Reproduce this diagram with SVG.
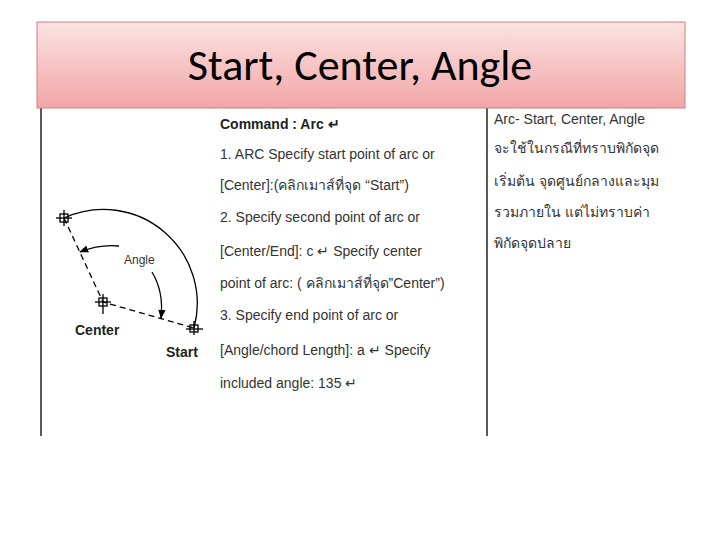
<svg xmlns="http://www.w3.org/2000/svg" width="720" height="540" viewBox="0 0 720 540">
<defs>
<linearGradient id="hg" x1="0" y1="0" x2="0" y2="1">
<stop offset="0" stop-color="#fbe3e3"/><stop offset="1" stop-color="#f2a6a6"/>
</linearGradient>
<marker id="ah" viewBox="0 0 10 10" refX="9" refY="5" markerWidth="7" markerHeight="7" orient="auto-start-reverse"><path d="M0,1 L10,5 L0,9 z" fill="#000"/></marker>
</defs>
<style>
.t{font-family:"Liberation Sans",Arial,"Noto Sans",sans-serif;font-size:14px;fill:#333}
.b{font-family:"Liberation Sans",Arial,sans-serif;font-size:14px;font-weight:bold;fill:#222}
.ln{stroke:#000;fill:none;stroke-width:1.3}
</style>
<rect width="720" height="540" fill="#fff"/>
<g id="frame" stroke="#000" stroke-width="1.3">
<line x1="41" y1="105" x2="41" y2="436"/>
<line x1="487" y1="100" x2="487" y2="436"/>
</g>
<g id="header">
<rect x="37" y="22" width="648" height="86" fill="url(#hg)" stroke="#d08080" stroke-width="1"/>
<text x="360" y="80" text-anchor="middle" font-family="Carlito,Calibri,'Liberation Sans',sans-serif" font-size="44" fill="#000">Start, Center, Angle</text>
</g>
<g id="figure">
<path class="ln" d="M194,328 A94,94 0 0 0 64,218"/>
<path class="ln" d="M64,218 L103,302 L194,328" stroke-dasharray="6,4"/>
<path class="ln" d="M119,246 Q100,244 80,252" marker-end="url(#ah)"/>
<path class="ln" d="M152,272 Q164,292 161,318" marker-end="url(#ah)"/>
<g class="ln" stroke-width="1">
<rect x="60" y="214" width="8" height="8"/><line x1="56" y1="218" x2="72" y2="218"/><line x1="64" y1="210" x2="64" y2="226"/>
<rect x="99" y="298" width="8" height="8"/><line x1="95" y1="302" x2="111" y2="302"/><line x1="103" y1="294" x2="103" y2="314"/>
<rect x="190" y="325" width="8" height="7"/><line x1="186" y1="329" x2="203" y2="329"/><line x1="194" y1="321" x2="194" y2="335"/>
</g>
<text x="124" y="264" font-family="Liberation Sans,Arial,sans-serif" font-size="12" fill="#333">Angle</text>
<text x="75" y="335" class="b">Center</text>
<text x="166" y="357" class="b">Start</text>
</g>
<g id="commands">
<text x="220" y="129" class="b">Command : Arc ↵</text>
<text x="220" y="159" class="t">1. ARC Specify start point of arc or</text>
<text x="220" y="190" class="t">[Center]:(คลิกเมาส์ที่จุด “Start”)</text>
<text x="220" y="222" class="t">2. Specify second point of arc or</text>
<text x="220" y="256" class="t">[Center/End]: c  ↵ Specify center</text>
<text x="220" y="288" class="t">point of arc: ( คลิกเมาส์ที่จุด”Center”)</text>
<text x="220" y="320" class="t">3. Specify end point of arc or</text>
<text x="220" y="355" class="t">[Angle/chord Length]: a ↵ Specify</text>
<text x="220" y="388" class="t">included angle: 135 ↵</text>
</g>
<g id="notes">
<text x="494" y="124" class="t" fill="#222">Arc- Start, Center, Angle</text>
<text x="494" y="153" class="t">จะใช้ในกรณีที่ทราบพิกัดจุด</text>
<text x="494" y="186" class="t">เริ่มต้น จุดศูนย์กลางและมุม</text>
<text x="494" y="217" class="t">รวมภายใน แต่ไม่ทราบค่า</text>
<text x="494" y="248" class="t">พิกัดจุดปลาย</text>
</g>
</svg>
